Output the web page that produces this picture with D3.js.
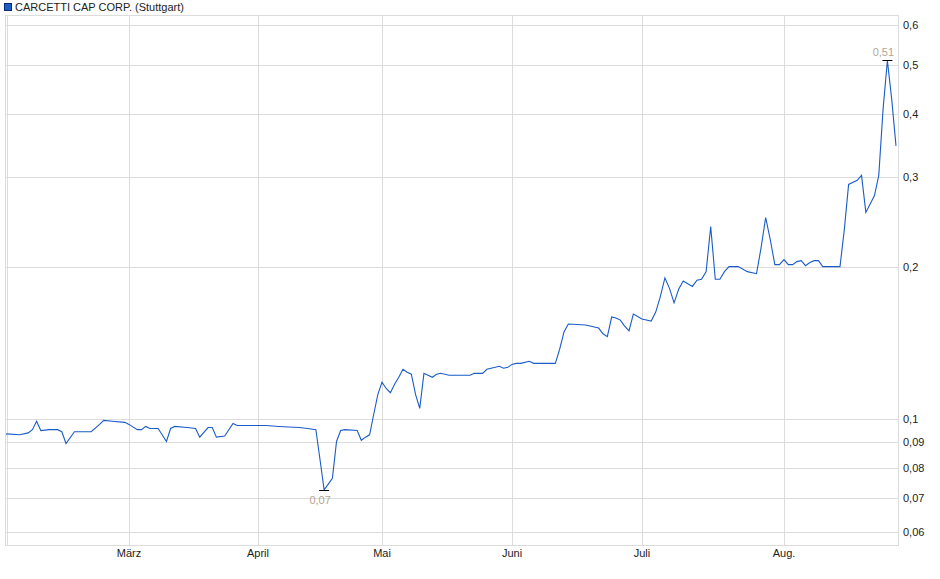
<!DOCTYPE html>
<html><head><meta charset="utf-8">
<script src="https://cdn.jsdelivr.net/npm/d3@7"></script>
<style>body{margin:0;background:#fff}text{font-family:"Liberation Sans",Arial,sans-serif}</style>
</head><body><svg id="c" width="940" height="579"></svg>
<script>
const seriesName = "CARCETTI CAP CORP. (Stuttgart)";
const dates = ["01-31","02-01","02-04","02-06","02-07","02-08","02-09","02-11","02-13","02-14","02-15","02-17","02-21","02-23","02-24","02-26","02-29",
"03-01","03-03","03-04","03-05","03-06","03-08","03-10","03-11","03-12","03-15","03-17","03-18","03-20","03-21","03-22","03-24","03-26","03-27","03-31",
"04-03","04-06","04-11","04-13","04-15","04-16","04-17","04-18","04-19","04-20","04-21","04-22","04-25","04-26","04-27","04-28","04-29","04-30",
"05-01","05-02","05-03","05-04","05-05","05-06","05-07","05-08","05-09","05-10","05-11","05-13","05-14","05-15","05-17","05-22","05-23","05-25","05-26","05-27","05-29","05-30","05-31",
"06-01","06-02","06-03","06-05","06-06","06-11","06-12","06-13","06-14","06-18","06-21","06-22","06-23","06-24","06-25","06-26","06-27","06-28","06-29",
"07-01","07-03","07-04","07-05","07-06","07-07","07-08","07-09","07-10","07-12","07-13","07-14","07-15","07-16","07-17","07-18","07-19","07-20","07-22","07-24","07-26","07-27","07-28","07-29","07-30","07-31",
"08-01","08-02","08-03","08-04","08-05","08-06","08-07","08-08","08-09","08-10","08-14","08-15","08-16","08-18","08-19","08-20","08-22","08-23","08-24","08-25","08-26","08-27"];
const values = [0.0927,0.0936,0.0932,0.094,0.0954,0.0991,0.095,0.0954,0.0954,0.0945,0.0896,0.0945,0.0945,0.0977,0.0995,0.0991,0.0986,
0.0977,0.0954,0.0954,0.0968,0.0959,0.0959,0.0904,0.0959,0.0968,0.0963,0.0959,0.0922,0.0963,0.0963,0.0922,0.0927,0.0981,0.0972,0.0972,
0.0972,0.0968,0.0963,0.0959,0.0954,0.0833,0.0726,0.0745,0.0765,0.0904,0.095,0.0954,0.095,0.0909,0.0922,0.0932,0.1023,0.112,
0.1183,0.115,0.1128,0.1172,0.121,0.1255,0.1238,0.1227,0.112,0.1051,0.1232,0.121,0.1227,0.1232,0.1221,0.1221,0.1232,0.1232,0.1255,0.1261,0.1272,0.1261,0.1266,
0.1283,0.1289,0.1289,0.1301,0.1289,0.1289,0.1375,0.1486,0.1541,0.1534,0.1513,0.1474,0.1455,0.1591,0.1584,0.1569,0.1527,0.1494,0.1612,
0.1576,0.1562,0.1627,0.1746,0.19,0.1812,0.1697,0.1805,0.1873,0.1828,0.1881,0.1888,0.1955,0.24,0.1888,0.1888,0.1955,0.2,0.2,0.1955,0.1937,0.2181,0.25,0.2262,0.2018,0.2018,
0.2064,0.2018,0.2018,0.2046,0.2055,0.2009,0.2037,0.2055,0.2055,0.2,0.2,0.2366,0.2905,0.2959,0.3027,0.2558,0.2762,0.3027,0.409,0.51,0.428,0.346];
const yTicks = [0.06,0.07,0.08,0.09,0.1,0.2,0.3,0.4,0.5,0.6];
const yTickLabels = ["0,06","0,07","0,08","0,09","0,1","0,2","0,3","0,4","0,5","0,6"];
const monthTicks = ["2024-03-01","2024-04-01","2024-05-01","2024-06-01","2024-07-01","2024-08-01"];
const monthLabels = ["März","April","Mai","Juni","Juli","Aug."];
const minLabel = "0,07", maxLabel = "0,51";

const svg = d3.select("#c");
const L=5, R=898, T=15, B=545;
const p = d3.utcParse("%Y-%m-%d");
const x = d3.scaleUtc()
  .domain(["2024-01-31","2024-03-01","2024-04-01","2024-05-01","2024-06-01","2024-07-01","2024-08-01","2024-08-27"].map(p))
  .range([3,129,258,382,512,642,784,896]);
const y = d3.scaleLog().domain([0.0565,0.627]).range([B,T]);
const data = dates.map((d,i)=>({d:p("2024-"+d), v:values[i]}));

// grid
svg.append("g").selectAll("line").data(yTicks).join("line")
  .attr("x1",L).attr("x2",R).attr("y1",d=>Math.round(y(d))+.5).attr("y2",d=>Math.round(y(d))+.5)
  .attr("stroke","#dcdcdc");
svg.append("g").selectAll("line").data(monthTicks).join("line")
  .attr("x1",d=>Math.round(x(p(d)))+.5).attr("x2",d=>Math.round(x(p(d)))+.5).attr("y1",T).attr("y2",B)
  .attr("stroke","#dcdcdc");
svg.append("rect").attr("x",L+.5).attr("y",T+.5).attr("width",R-L).attr("height",B-T)
  .attr("fill","none").attr("stroke","#dcdcdc");
svg.append("line").attr("x1",7.5).attr("x2",7.5).attr("y1",T).attr("y2",B).attr("stroke","#dcdcdc");

// axis labels
svg.append("g").selectAll("text").data(yTicks).join("text")
  .attr("x",903).attr("y",d=>y(d)+4).attr("font-size",11).attr("fill","#222")
  .text((d,i)=>yTickLabels[i]);
svg.append("g").selectAll("text").data(monthTicks).join("text")
  .attr("x",d=>x(p(d))).attr("y",557).attr("text-anchor","middle").attr("font-size",11).attr("fill","#222")
  .text((d,i)=>monthLabels[i]);

// line
svg.append("clipPath").attr("id","cp").append("rect").attr("x",L+1).attr("y",T).attr("width",R-L).attr("height",B-T);
svg.append("path").datum(data).attr("clip-path","url(#cp)")
  .attr("d",d3.line().x(d=>x(d.d)).y(d=>y(d.v)))
  .attr("fill","none").attr("stroke","#1a5cc8").attr("stroke-width",1.1);

// min / max markers
const mn = d3.least(data,d=>d.v), mx = d3.greatest(data,d=>d.v);
[[mn,minLabel,13],[mx,maxLabel,-5]].forEach(([d,l,dy])=>{
  const px=x(d.d), py=Math.round(y(d.v))+.5;
  svg.append("line").attr("x1",px-5).attr("x2",px+5).attr("y1",py).attr("y2",py).attr("stroke","#000");
  svg.append("text").attr("x",px-4).attr("y",py+dy).attr("text-anchor","middle").attr("font-size",11)
    .attr("fill","#b3a595").text(l);
});

// legend
svg.append("rect").attr("x",4.5).attr("y",3.5).attr("width",7).attr("height",7).attr("fill","#1a5cc8").attr("stroke","#0a2a70");
svg.append("text").attr("x",15).attr("y",11).attr("font-size",11).attr("fill","#222").text(seriesName);
</script></body></html>
